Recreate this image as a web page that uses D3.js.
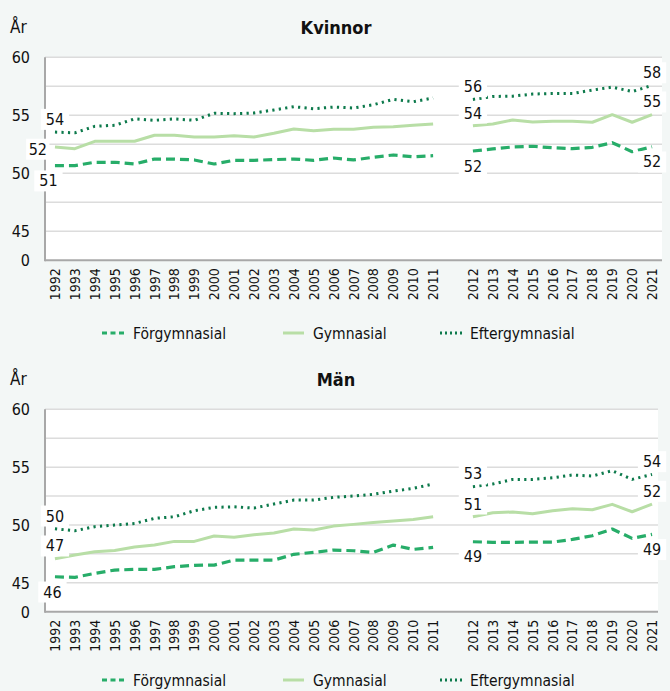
<!DOCTYPE html>
<html><head><meta charset="utf-8">
<script src="https://cdn.jsdelivr.net/npm/d3@7"></script>
<style>body{margin:0;background:#f3f7f6} svg{display:block}</style>
</head><body><svg id="c" width="670" height="691"></svg>
<script>
// ---- data ----
const GAP = "gap";
const categories = ["1992","1993","1994","1995","1996","1997","1998","1999","2000","2001","2002","2003","2004","2005","2006","2007","2008","2009","2010","2011",GAP,"2012","2013","2014","2015","2016","2017","2018","2019","2020","2021"];
const seriesNames = ["Förgymnasial","Gymnasial","Eftergymnasial"];
const panelTitles = ["Kvinnor","Män"];
const yTickValues = [45,50,55,60];
const yTickLabels = ["45","50","55","60"];
const yBreakLabel = "0";
const gridValues = [45,47.5,50,52.5,55,57.5,60];

const kvinnorForgym = [50.66,50.66,50.95,50.95,50.8,51.23,51.23,51.15,50.8,51.12,51.12,51.18,51.23,51.12,51.32,51.15,51.38,51.58,51.43,51.52,null,51.92,52.1,52.27,52.33,52.2,52.12,52.24,52.64,51.86,52.29];
const kvinnorGym    = [52.27,52.12,52.76,52.76,52.76,53.28,53.28,53.13,53.13,53.24,53.13,53.45,53.82,53.67,53.79,53.79,53.97,54.02,54.14,54.25,null,54.1,54.25,54.6,54.42,54.48,54.48,54.4,55.05,54.4,55.05];
const kvinnorEfter  = [53.55,53.49,54.05,54.14,54.69,54.57,54.69,54.57,55.17,55.14,55.2,55.46,55.74,55.57,55.71,55.63,55.91,56.37,56.17,56.49,null,56.37,56.62,56.65,56.83,56.88,56.88,57.17,57.43,57.05,57.57];

const manForgym = [45.52,45.47,45.81,46.1,46.16,46.16,46.39,46.51,46.53,46.96,46.96,46.96,47.46,47.63,47.83,47.77,47.63,48.26,47.89,48.06,null,48.55,48.5,48.5,48.52,48.52,48.75,49.07,49.65,48.84,49.19];
const manGym    = [47.08,47.4,47.68,47.8,48.09,48.26,48.58,48.58,49.04,48.93,49.15,49.3,49.65,49.56,49.9,50.05,50.22,50.34,50.48,50.71,null,50.71,51.06,51.12,50.97,51.23,51.4,51.32,51.78,51.14,51.81];
const manEfter  = [49.67,49.5,49.85,49.99,50.13,50.57,50.71,51.23,51.52,51.57,51.46,51.81,52.15,52.15,52.39,52.5,52.65,52.93,53.16,53.54,null,53.31,53.54,53.94,53.94,54.08,54.32,54.23,54.69,53.94,54.37];

// labelled points: [series index, category index, placement]
const kvinnorLabels = [[2,0,"above"],[1,0,"left"],[0,0,"belowL"],[2,21,"above"],[1,21,"above"],[0,21,"below"],[2,30,"above"],[1,30,"above"],[0,30,"below"]];
const manLabels     = [[2,0,"above"],[1,0,"above"],[0,0,"belowl"],[2,21,"above"],[1,21,"above"],[0,21,"below"],[2,30,"above"],[1,30,"above"],[0,30,"below"]];

// ---- styles ----
const colors = ["#27ad69","#b8dea6","#0d7a4c"];
const dashes = ["9,5",null,"2.2,4.3"];
const widths = [3.2,3,3];
const FONT = "'DejaVu Sans Condensed','DejaVu Sans',sans-serif";

const panels = [
  {title: panelTitles[0], series:[kvinnorForgym,kvinnorGym,kvinnorEfter], labels:kvinnorLabels, oy:0, right:662, legendY:333},
  {title: panelTitles[1], series:[manForgym,manGym,manEfter], labels:manLabels, oy:352, right:658, legendY:680}
];

const svg = d3.select("#c");
svg.append("rect").attr("width",670).attr("height",691).attr("fill","#f3f7f6");

const left = 45;
const x = d3.scaleBand().domain(categories).range([left, 662]);
const cx = c => x(c) + x.bandwidth()/2;

panels.forEach(p => {
  const top = 57.3 + p.oy, bottom = 260.3 + p.oy - (p.oy ? 0.6 : 0);
  const y = d3.scaleLinear().domain([42.5,60]).range([bottom, top]);
  const g = svg.append("g");

  // title & unit
  g.append("text").attr("x",336).attr("y",34+p.oy).attr("text-anchor","middle")
    .attr("font-family",FONT).attr("font-weight","bold").attr("font-size",18).attr("fill","#111").text(p.title);
  g.append("text").attr("x",10).attr("y",33+p.oy)
    .attr("font-family",FONT).attr("font-size",17).attr("fill","#111").text("År");

  // plot background
  g.append("rect").attr("x",left).attr("y",top).attr("width",p.right-left).attr("height",bottom-top).attr("fill","#fff");

  // gridlines
  g.selectAll(".grid").data(gridValues).join("line")
    .attr("x1",left).attr("x2",p.right).attr("y1",d=>y(d)).attr("y2",d=>y(d))
    .attr("stroke","#dcdcdc").attr("stroke-width",1.5);

  // y tick labels
  const yAxis = d3.axisLeft(y).tickValues([42.5, ...yTickValues]).tickSize(0).tickPadding(0)
    .tickFormat(d => d === 42.5 ? yBreakLabel : yTickLabels[yTickValues.indexOf(d)]);
  const ya = g.append("g").attr("transform",`translate(30,0)`).call(yAxis);
  ya.select(".domain").remove();
  ya.selectAll("text").attr("font-family",FONT).attr("font-size",16).attr("fill","#111").attr("dy","0.35em");

  // x axis
  const xAxis = d3.axisBottom(x).tickSize(0).tickPadding(0).tickFormat(d => d === GAP ? "" : d);
  const xa = g.append("g").attr("transform",`translate(0,${bottom})`).call(xAxis);
  xa.select(".domain").remove();
  xa.selectAll("text").attr("font-family",FONT).attr("font-size",14).attr("fill","#111")
    .attr("text-anchor","end").attr("transform","rotate(-90)")
    .attr("x",-8).attr("y",0).attr("dy","0.36em");

  // lines
  const line = d3.line().defined(d => d.v != null).x(d => cx(d.c)).y(d => y(d.v));
  p.series.forEach((vals, si) => {
    const pts = categories.map((c,i) => ({c, v: vals[i]}));
    g.append("path").datum(pts).attr("d",line).attr("fill","none")
      .attr("stroke",colors[si]).attr("stroke-width",widths[si])
      .attr("stroke-dasharray",dashes[si]).attr("stroke-linejoin","round");
  });

  // axis lines
  g.append("line").attr("x1",left).attr("x2",left).attr("y1",top).attr("y2",bottom+1)
    .attr("stroke","#a8a8a8").attr("stroke-width",2);
  g.append("line").attr("x1",left).attr("x2",p.right).attr("y1",bottom).attr("y2",bottom)
    .attr("stroke","#a8a8a8").attr("stroke-width",2);

  // data labels
  p.labels.forEach(([si, ci, pos]) => {
    const c = categories[ci], v = p.series[si][ci];
    let px = cx(c), py = y(v), anchor = "middle";
    if (pos === "above") py -= 13;
    else if (pos === "below") py += 15;
    else if (pos === "belowL") { py += 15; px -= 6.5; }
    else if (pos === "belowl") { py += 15; px -= 2.5; }
    else if (pos === "left") { px -= 8; py += 2; anchor = "end"; }
    const lg = g.append("g");
    const t = lg.append("text").attr("x",px).attr("y",py).attr("dy","0.36em").attr("text-anchor",anchor)
      .attr("font-family",FONT).attr("font-size",16).attr("fill","#111").text(Math.round(v));
    const bb = t.node().getBBox();
    const padX = pos === "left" ? 2.5 : 5;
    lg.insert("rect","text").attr("x",bb.x-padX).attr("y",bb.y-1).attr("width",bb.width+2*padX).attr("height",bb.height+2).attr("fill","#fff");
  });

  // legend
  const ly = p.legendY;
  const legendItems = [{x0:102,x1:124,tx:133},{x0:283,x1:304,tx:313},{x0:440,x1:464,tx:470}];
  seriesNames.forEach((name, si) => {
    const it = legendItems[si];
    g.append("line").attr("x1",it.x0).attr("x2",it.x1).attr("y1",ly).attr("y2",ly)
      .attr("stroke",colors[si]).attr("stroke-width",3)
      .attr("stroke-dasharray", si===0 ? "5,3.5" : si===2 ? "2,3" : null);
    g.append("text").attr("x",it.tx).attr("y",ly).attr("dy","0.36em")
      .attr("font-family",FONT).attr("font-size",15.5).attr("fill","#111").text(name);
  });
});
</script>
</body></html>
